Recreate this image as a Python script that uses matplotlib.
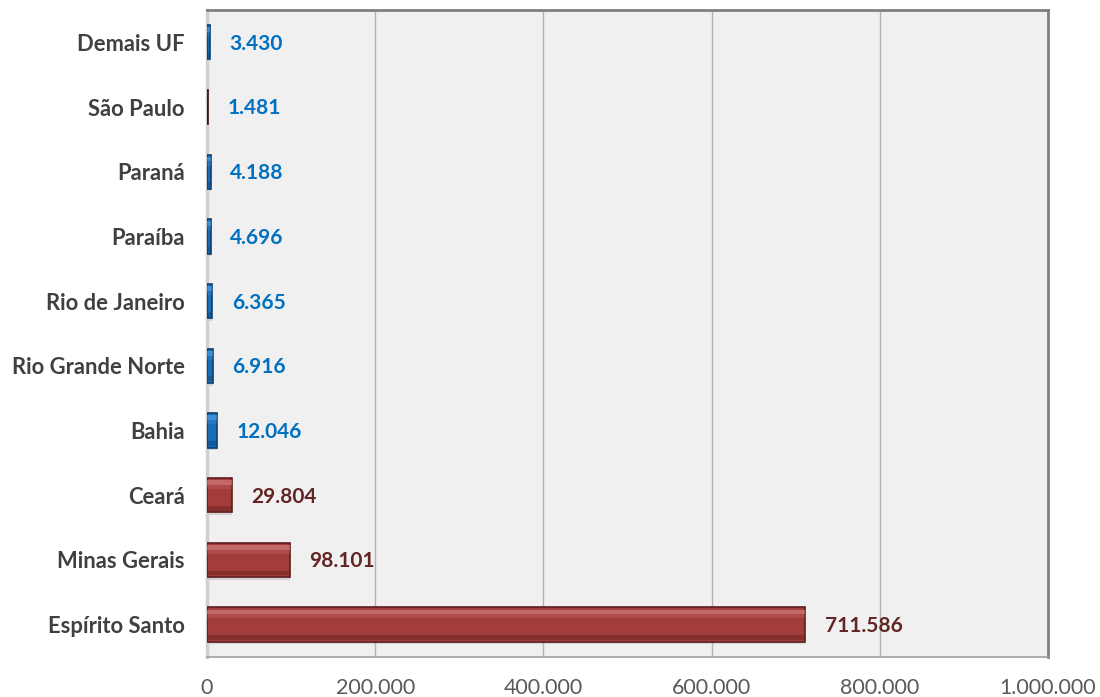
import matplotlib
matplotlib.use("Agg")
import matplotlib.pyplot as plt
from matplotlib.ticker import FuncFormatter

# Quantities by state (top to bottom as displayed)
states = ["Demais UF", "São Paulo", "Paraná", "Paraíba", "Rio de Janeiro",
          "Rio Grande Norte", "Bahia", "Ceará", "Minas Gerais", "Espírito Santo"]
values = [3430, 1481, 4188, 4696, 6365, 6916, 12046, 29804, 98101, 711586]
value_labels = ["3.430", "1.481", "4.188", "4.696", "6.365",
                "6.916", "12.046", "29.804", "98.101", "711.586"]
x_ticks = [0, 200000, 400000, 600000, 800000, 1000000]

BLUE = "#1a6cb5"
BLUE_LIGHT = "#5aa6e6"
BLUE_DARK = "#0d3f6e"
RED = "#a23d3b"
RED_LIGHT = "#d98583"
RED_DARK = "#5e1d1c"
BROWN = "#5a2420"

bar_colors = [BLUE, BROWN, BLUE, BLUE, BLUE, BLUE, BLUE, RED, RED, RED]
light_colors = [BLUE_LIGHT, BROWN, BLUE_LIGHT, BLUE_LIGHT, BLUE_LIGHT,
                BLUE_LIGHT, BLUE_LIGHT, RED_LIGHT, RED_LIGHT, RED_LIGHT]
dark_colors = [BLUE_DARK, "#3a1512", BLUE_DARK, BLUE_DARK, BLUE_DARK,
               BLUE_DARK, BLUE_DARK, RED_DARK, RED_DARK, RED_DARK]
label_colors = ["#0070c0"] * 7 + ["#632523"] * 3

plt.rcParams["font.family"] = ["Lato", "DejaVu Sans"]

fig = plt.figure(figsize=(11, 6.97), dpi=100)
ax = fig.add_axes([0.1882, 0.0574, 0.7645, 0.9283])
ax.set_facecolor("#f0f0f0")

n = len(states)
ypos = [n - 1 - i for i in range(n)]
h = 0.53

# soft drop shadow
ax.barh([y - 0.04 for y in ypos], values, height=h, left=0,
        color="#000000", alpha=0.12, zorder=2, linewidth=0)
# main body with darker outline
ax.barh(ypos, values, height=h, color=bar_colors, edgecolor=dark_colors,
        linewidth=1.2, zorder=3)
# bevel highlight along the top edge
ax.barh([y + h * 0.37 for y in ypos], values, height=h * 0.14,
        color=light_colors, linewidth=0, zorder=4, alpha=0.6)
ax.barh([y + h * 0.24 for y in ypos], values, height=h * 0.12,
        color=light_colors, linewidth=0, zorder=4, alpha=0.2)
# darker band along the bottom edge
ax.barh([y - h * 0.38 for y in ypos], values, height=h * 0.14,
        color=dark_colors, linewidth=0, zorder=4, alpha=0.4)

for y, v, lab, c in zip(ypos, values, value_labels, label_colors):
    ax.annotate(lab, xy=(v, y), xytext=(14, -1), textcoords="offset points",
                ha="left", va="center", fontsize=15, fontweight="bold",
                color=c, zorder=5)

ax.set_xlim(0, 1000000)
ax.set_ylim(-0.5, n - 0.5)
ax.set_xticks(x_ticks)
ax.xaxis.set_major_formatter(FuncFormatter(lambda v, p: f"{int(v):,}".replace(",", ".")))
ax.set_yticks(ypos)
ax.set_yticklabels(states, fontsize=15.8, fontweight="bold", color="#404040")
ax.tick_params(axis="x", length=0, pad=15, labelsize=15.4, labelcolor="#595959")
ax.tick_params(axis="y", length=0, pad=16)

ax.grid(axis="x", color="#b4b4b4", linewidth=1.0, zorder=1)
ax.set_axisbelow(True)

ax.spines["left"].set_color("#d0d0d0")
ax.spines["left"].set_linewidth(2.5)
ax.spines["bottom"].set_color("#a0a0a0")
ax.spines["bottom"].set_linewidth(1.2)
ax.spines["top"].set_color("#808080")
ax.spines["top"].set_linewidth(2)
ax.spines["right"].set_color("#808080")
ax.spines["right"].set_linewidth(2)

fig.savefig("out.png", dpi=100)
